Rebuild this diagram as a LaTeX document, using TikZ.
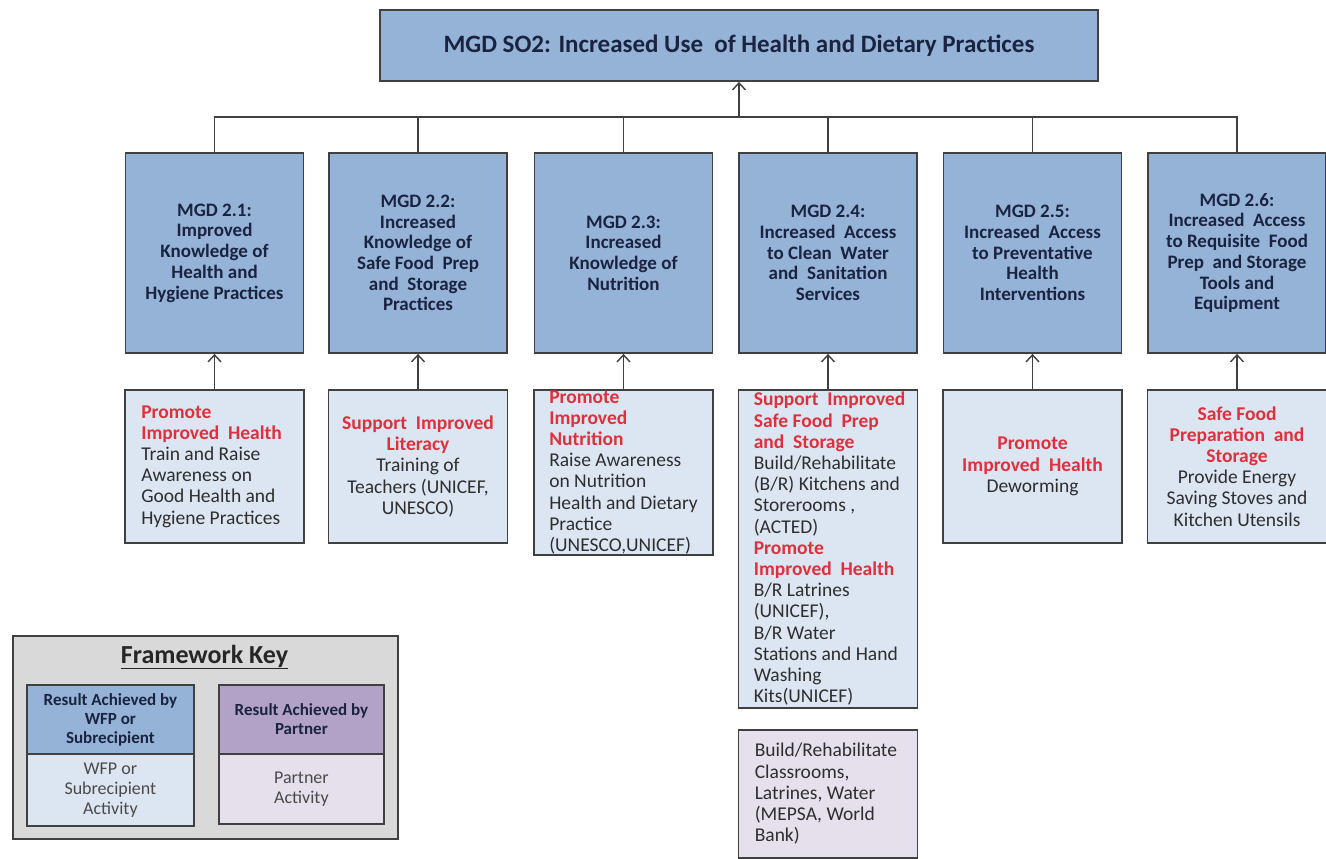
\documentclass[tikz,border=0pt]{standalone}
\usepackage{fontspec}
\setmainfont{Carlito}
\usetikzlibrary{arrows.meta}

\definecolor{goalblue}{HTML}{95B3D7}
\definecolor{actblue}{HTML}{DCE6F2}
\definecolor{keygray}{HTML}{D9D9D9}
\definecolor{partnerhead}{HTML}{B3A2C7}
\definecolor{partnerbody}{HTML}{E6E0EC}
\definecolor{edgegray}{HTML}{404040}
\definecolor{navytext}{HTML}{1A2340}
\definecolor{bodytext}{HTML}{2E2E2E}
\definecolor{keytext}{HTML}{4A4A4A}
\definecolor{headred}{HTML}{E0303C}

% red bold activity heading
\newcommand\hd[1]{{\color{headred}\bfseries #1}}

\begin{document}
\begin{tikzpicture}[x=1pt,y=-1pt,
  box/.style={draw=edgegray, line width=1.8pt, inner sep=0pt},
  goal/.style={box, fill=goalblue, minimum width=178pt, minimum height=200pt},
  goaltext/.style={text=navytext, font=\fontsize{19}{20.7}\selectfont\bfseries, align=center, inner sep=0pt},
  act/.style={box, fill=actblue, minimum width=179pt, anchor=north},
  acttext/.style={text=bodytext, font=\fontsize{19.5}{21.2}\selectfont, inner sep=0pt},
  keyhead/.style={text=navytext, font=\fontsize{17}{19}\selectfont\bfseries, align=center, inner sep=0pt},
  keybody/.style={text=keytext, font=\fontsize{18}{20}\selectfont, align=center, inner sep=0pt},
  conn/.style={draw=edgegray, line width=1.4pt},
  arr/.style={conn, -{Straight Barb[length=7pt,width=13pt,line width=1.4pt]}},
]
\useasboundingbox (0,0) rectangle (1326,859);

% strategic objective
\node[box, fill=goalblue, minimum width=718pt, minimum height=71pt,
      text=navytext, font=\fontsize{25}{29}\selectfont\bfseries] (so2) at (739,45.5)
  {MGD SO2: Increased Use\ \ of Health and Dietary Practices};

% results
\node[goal] (g1) at (214.5,253) {};
\node[goal] (g2) at (418,253) {};
\node[goal] (g3) at (623.5,253) {};
\node[goal] (g4) at (828,253) {};
\node[goal] (g5) at (1032.5,253) {};
\node[goal] (g6) at (1237,253) {};

\node[goaltext] (g1t) at (g1.center) {MGD 2.1:\\Improved\\Knowledge of\\Health and\\Hygiene Practices};
\node[goaltext] (g2t) at (g2.center) {MGD 2.2:\\Increased\\Knowledge of\\Safe Food\ \ Prep\\and\ \ Storage\\Practices};
\node[goaltext] (g3t) at (g3.center) {MGD 2.3:\\Increased\\Knowledge of\\Nutrition};
\node[goaltext] (g4t) at (g4.center) {MGD 2.4:\\Increased\ \ Access\\to Clean\ \ Water\\and\ \ Sanitation\\Services};
\node[goaltext] (g5t) at (g5.center) {MGD 2.5:\\Increased\ \ Access\\to Preventative\\Health\\Interventions};
\node[goaltext] (g6t) at (g6.center) {MGD 2.6:\\Increased\ \ Access\\to Requisite\ \ Food\\Prep\ \ and Storage\\Tools and\\Equipment};

% bus to the objective
\coordinate (bus) at (739,117);
\draw[conn] (g1.north) |- (bus) -| (g6.north);
\foreach \g in {g2,g3,g4,g5}
  \draw[conn] (\g.north) -- (\g.north |- bus);
\draw[arr] (bus) -- (so2.south);

% activities
\node[act, minimum height=153pt] (a1) at (214.5,389) {};
\node[act, minimum height=153pt] (a2) at (418,389) {};
\node[act, minimum height=165pt] (a3) at (623.5,389) {};
\node[act, minimum height=318pt] (a4) at (828,389) {};
\node[act, minimum height=153pt] (a5) at (1032.5,389) {};
\node[act, minimum height=153pt] (a6) at (1237,389) {};

\node[acttext, align=left, anchor=west] (a1t) at ([xshift=17pt]a1.west)
  {\hd{Promote}\\\hd{Improved\ \ Health}\\Train and Raise\\Awareness on\\Good Health and\\Hygiene Practices};
\node[acttext, align=center] (a2t) at (a2.center)
  {\hd{Support\ \ Improved}\\\hd{Literacy}\\Training of\\Teachers (UNICEF,\\UNESCO)};
\node[acttext, align=left, anchor=west] (a3t) at ([xshift=16pt]a3.west)
  {\hd{Promote}\\\hd{Improved}\\\hd{Nutrition}\\Raise Awareness\\on Nutrition\\Health and Dietary\\Practice\\(UNESCO,UNICEF)};
\node[acttext, align=left, anchor=west] (a4t) at ([xshift=16pt]a4.west)
  {\hd{Support\ \ Improved}\\\hd{Safe Food\ \ Prep}\\\hd{and\ \ Storage}\\Build/Rehabilitate\\(B/R) Kitchens and\\Storerooms ,\\(ACTED)\\\hd{Promote}\\\hd{Improved\ \ Health}\\B/R Latrines\\(UNICEF),\\B/R Water\\Stations and Hand\\Washing\\Kits(UNICEF)};
\node[acttext, align=center] (a5t) at (a5.center)
  {\hd{Promote}\\\hd{Improved\ \ Health}\\Deworming};
\node[acttext, align=center] (a6t) at (a6.center)
  {\hd{Safe Food}\\\hd{Preparation\ \ and}\\\hd{Storage}\\Provide Energy\\Saving Stoves and\\Kitchen Utensils};

\foreach \i in {1,...,6}
  \draw[arr] (a\i.north) -- (g\i.south);

% partner activity
\node[box, fill=partnerbody, minimum width=179pt, minimum height=128pt, anchor=north] (p4) at (828,729) {};
\node[acttext, align=left, anchor=west] (p4t) at ([xshift=17pt]p4.west)
  {Build/Rehabilitate\\Classrooms,\\Latrines, Water\\(MEPSA, World\\Bank)};

% framework key
\node[box, fill=keygray, minimum width=385pt, minimum height=203pt, anchor=north west] (key) at (12,635) {};
\node[inner sep=0pt, text=black!85, font=\fontsize{26}{30}\selectfont\bfseries] (keyt) at (204.5,657) {\underline{Framework Key}};
\node[box, fill=goalblue, minimum width=167pt, minimum height=69pt, anchor=north west] (kh1) at (26,684) {};
\node[box, fill=actblue, minimum width=167pt, minimum height=72pt, anchor=north west] (kb1) at (26,753) {};
\node[box, fill=partnerhead, minimum width=165pt, minimum height=69pt, anchor=north west] (kh2) at (218,684) {};
\node[box, fill=partnerbody, minimum width=165pt, minimum height=70pt, anchor=north west] (kb2) at (218,753) {};
\node[keyhead] (kh1t) at (kh1.center) {Result Achieved by\\WFP or\\Subrecipient};
\node[keybody] (kb1t) at (kb1.center) {WFP or\\Subrecipient\\Activity};
\node[keyhead] (kh2t) at (kh2.center) {Result Achieved by\\Partner};
\node[keybody] (kb2t) at (kb2.center) {Partner\\Activity};
\end{tikzpicture}
\end{document}
